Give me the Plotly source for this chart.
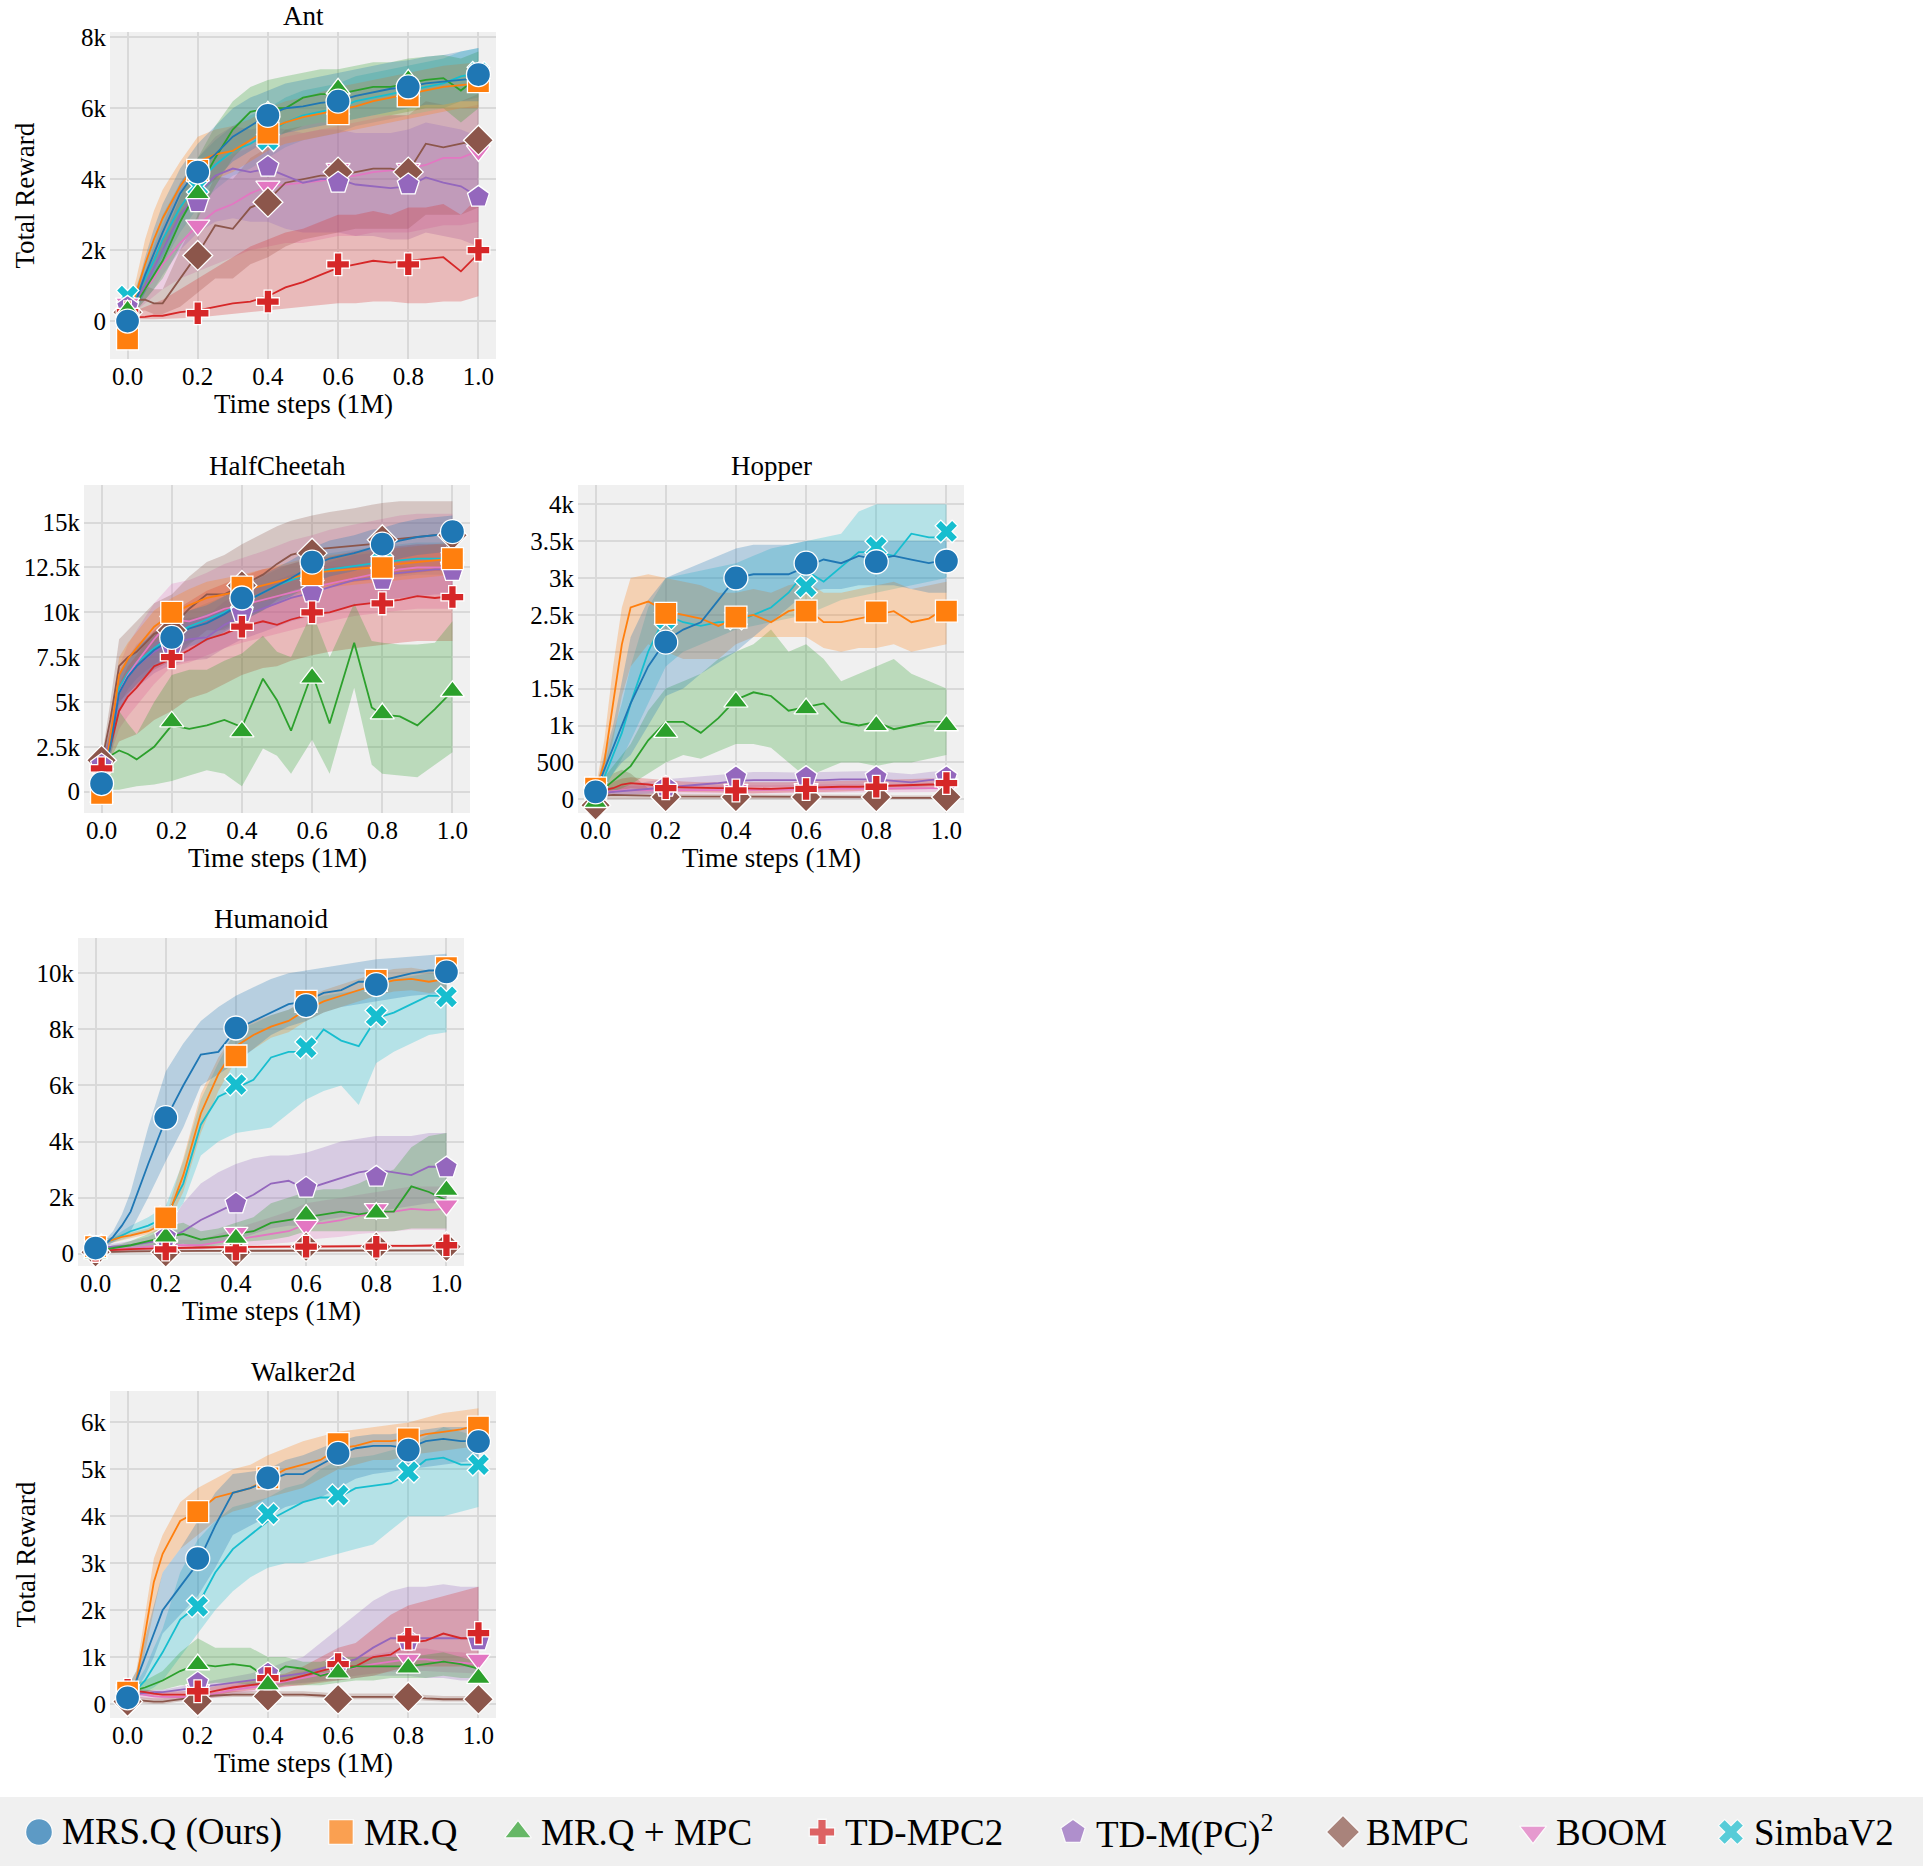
import plotly.graph_objects as go

W, H = 1923, 1866
FONT = "Liberation Serif"

METHODS = ["MRS.Q (Ours)", "MR.Q", "MR.Q + MPC", "TD-MPC2", "TD-M(PC)<sup>2</sup>", "BMPC", "BOOM", "SimbaV2"]
COLORS = ["#1f77b4", "#ff7f0e", "#2ca02c", "#d62728", "#9467bd", "#8c564b", "#e377c2", "#17becf"]
SYMBOLS = ["circle", "square", "triangle-up", "cross", "pentagon", "diamond", "triangle-down", "x"]
SYM_SIZE = [24, 22, 21, 19, 23, 23, 21, 20]

MARK_X = [0.0, 0.2, 0.4, 0.6, 0.8, 1.0]
X = [0, 0.025, 0.05, 0.075, 0.1, 0.15, 0.2, 0.25, 0.3, 0.35, 0.4, 0.45, 0.5, 0.55, 0.6, 0.65, 0.7, 0.75, 0.8, 0.85, 0.9, 0.95, 1.0]
X_HC = [0, 0.025, 0.05, 0.075, 0.1, 0.15, 0.2, 0.25, 0.3, 0.35, 0.4, 0.46, 0.5, 0.54, 0.6, 0.65, 0.72, 0.77, 0.8, 0.85, 0.9, 0.95, 1.0]
X_TICKS = [0.0, 0.2, 0.4, 0.6, 0.8, 1.0]
X_TICKTEXT = ["0.0", "0.2", "0.4", "0.6", "0.8", "1.0"]

# ---------------- Ant (values in thousands) ----------------
ANT_MEAN = [
    [0.2, 0.6, 1.3, 1.9, 2.5, 3.6, 4.3, 4.7, 5.2, 5.5, 5.8, 6.0, 6.05, 6.15, 6.2, 6.35, 6.45, 6.55, 6.6, 6.7, 6.75, 6.8, 6.85],
    [0.2, 0.8, 1.6, 2.3, 2.9, 3.8, 4.5, 4.7, 4.8, 5.1, 5.4, 5.6, 5.75, 5.85, 5.95, 6.05, 6.2, 6.3, 6.4, 6.5, 6.6, 6.65, 6.7],
    [0.2, 0.5, 0.9, 1.3, 1.7, 2.8, 3.7, 4.6, 5.4, 5.9, 6.0, 6.0, 6.3, 6.4, 6.4, 6.5, 6.6, 6.6, 6.7, 6.8, 6.85, 6.5, 6.9],
    [0.1, 0.1, 0.12, 0.15, 0.15, 0.25, 0.3, 0.4, 0.5, 0.55, 0.7, 0.95, 1.1, 1.3, 1.5, 1.6, 1.7, 1.65, 1.7, 1.75, 1.8, 1.4, 1.9],
    [0.3, 0.6, 1.0, 1.5, 2.0, 3.0, 3.6, 4.1, 4.3, 4.2, 4.3, 4.1, 3.9, 4.0, 4.0, 3.85, 3.8, 3.75, 3.8, 4.05, 3.9, 3.8, 3.5],
    [0.3, 0.6, 0.6, 0.5, 0.5, 1.2, 1.9, 2.7, 2.6, 3.2, 3.4, 3.9, 4.0, 4.1, 4.1, 4.2, 4.3, 4.3, 4.2, 5.0, 4.9, 5.0, 5.1],
    [0.4, 0.6, 0.9, 1.2, 1.6, 2.2, 2.7, 3.1, 3.3, 3.6, 3.8, 3.85, 3.9, 3.95, 4.05, 4.1, 4.2, 4.25, 4.3, 4.4, 4.6, 4.6, 4.8],
    [0.4, 0.7, 1.2, 1.7, 2.3, 3.2, 3.9, 4.4, 4.8, 5.0, 5.3, 5.6, 5.8, 5.9, 6.0, 6.2, 6.3, 6.4, 6.5, 6.6, 6.7, 6.9, 7.0],
]
ANT_LO = [
    [0.1, 0.3, 0.8, 1.3, 1.8, 2.8, 3.5, 4.0, 4.5, 4.8, 5.1, 5.3, 5.4, 5.5, 5.6, 5.7, 5.8, 5.9, 6.0, 6.1, 6.1, 6.2, 6.2],
    [0.1, 0.4, 1.0, 1.6, 2.1, 2.9, 3.6, 4.0, 4.2, 4.5, 4.8, 5.0, 5.1, 5.2, 5.3, 5.4, 5.5, 5.6, 5.7, 5.8, 5.9, 6.0, 6.0],
    [0.1, 0.3, 0.6, 0.9, 1.2, 2.1, 2.9, 3.8, 4.6, 5.1, 5.2, 5.3, 5.5, 5.6, 5.6, 5.7, 5.8, 5.8, 5.9, 6.0, 6.0, 5.6, 6.0],
    [0.05, 0.05, 0.05, 0.05, 0.05, 0.08, 0.1, 0.15, 0.2, 0.25, 0.3, 0.35, 0.4, 0.45, 0.5, 0.5, 0.55, 0.55, 0.5, 0.5, 0.55, 0.55, 0.7],
    [0.2, 0.3, 0.6, 0.9, 1.3, 2.0, 2.5, 2.8, 2.9, 2.8, 2.8, 2.6, 2.5, 2.5, 2.5, 2.4, 2.4, 2.3, 2.3, 2.5, 2.4, 2.3, 2.1],
    [0.2, 0.3, 0.3, 0.2, 0.2, 0.4, 0.8, 1.2, 1.2, 1.6, 1.8, 2.1, 2.3, 2.4, 2.5, 2.6, 2.6, 2.6, 2.6, 3.0, 3.0, 3.0, 3.2],
    [0.2, 0.3, 0.5, 0.7, 0.9, 1.2, 1.4, 1.6, 1.8, 2.0, 2.1, 2.2, 2.2, 2.3, 2.4, 2.4, 2.5, 2.5, 2.5, 2.6, 2.7, 2.7, 2.8],
    [0.2, 0.4, 0.8, 1.2, 1.6, 2.5, 3.2, 3.7, 4.1, 4.3, 4.6, 4.9, 5.1, 5.2, 5.3, 5.5, 5.6, 5.7, 5.8, 5.9, 6.0, 6.2, 6.3],
]
ANT_HI = [
    [0.3, 0.9, 1.8, 2.6, 3.3, 4.3, 5.0, 5.5, 6.0, 6.3, 6.5, 6.7, 6.8, 6.9, 7.0, 7.1, 7.2, 7.3, 7.35, 7.45, 7.5, 7.6, 7.7],
    [0.3, 1.2, 2.3, 3.1, 3.7, 4.5, 5.2, 5.4, 5.5, 5.7, 6.0, 6.2, 6.3, 6.45, 6.6, 6.7, 6.8, 6.9, 7.0, 7.1, 7.2, 7.25, 7.3],
    [0.3, 0.8, 1.3, 1.8, 2.3, 3.5, 4.6, 5.5, 6.2, 6.6, 6.8, 6.9, 7.0, 7.1, 7.1, 7.2, 7.3, 7.3, 7.4, 7.45, 7.5, 7.4, 7.6],
    [0.2, 0.3, 0.4, 0.5, 0.6, 0.9, 1.2, 1.5, 1.8, 2.1, 2.3, 2.5, 2.6, 2.8, 3.0, 3.0, 3.1, 3.0, 3.2, 3.2, 3.3, 3.0, 3.5],
    [0.4, 0.9, 1.4, 2.1, 2.7, 3.9, 4.6, 5.2, 5.5, 5.4, 5.5, 5.4, 5.3, 5.4, 5.4, 5.3, 5.3, 5.3, 5.4, 5.6, 5.5, 5.4, 5.2],
    [0.4, 0.9, 1.0, 0.9, 0.9, 2.0, 3.0, 4.1, 4.0, 4.6, 4.9, 5.4, 5.5, 5.6, 5.6, 5.7, 5.8, 5.8, 5.8, 6.2, 6.1, 6.2, 6.4],
    [0.6, 0.9, 1.3, 1.8, 2.3, 3.1, 3.9, 4.4, 4.7, 4.9, 5.1, 5.2, 5.3, 5.4, 5.5, 5.6, 5.7, 5.8, 5.8, 5.9, 6.0, 6.0, 6.1],
    [0.6, 1.0, 1.6, 2.2, 3.0, 3.9, 4.6, 5.1, 5.5, 5.8, 6.0, 6.3, 6.5, 6.6, 6.7, 6.9, 7.0, 7.1, 7.2, 7.3, 7.4, 7.6, 7.7],
]
ANT_MARK = [
    [0.0, 4.2, 5.8, 6.2, 6.6, 6.95],
    [-0.5, 4.25, 5.3, 5.85, 6.35, 6.75],
    [0.3, 3.6, 5.9, 6.55, 6.8, 7.0],
    [0.25, 0.22, 0.55, 1.6, 1.6, 2.0],
    [0.4, 3.35, 4.35, 3.9, 3.85, 3.5],
    [0.25, 1.85, 3.35, 4.2, 4.2, 5.1],
    [0.5, 2.7, 3.8, 4.3, 4.3, 4.8],
    [0.7, 3.8, 5.1, 6.0, 6.5, 7.0],
]
ANT_YTICKS = [0, 2, 4, 6, 8]
ANT_YTEXT = ["0", "2k", "4k", "6k", "8k"]

# ---------------- HalfCheetah ----------------
HC_MEAN = [
    [0.5, 2.5, 5.5, 6.4, 7.0, 7.9, 8.5, 9.1, 9.4, 9.9, 10.5, 11.1, 11.5, 11.9, 12.6, 13.0, 13.3, 13.6, 13.7, 14.0, 14.2, 14.3, 14.4],
    [0.3, 3.0, 6.5, 7.4, 8.0, 9.2, 9.9, 10.4, 10.8, 11.0, 11.2, 11.5, 11.7, 11.9, 12.2, 12.3, 12.4, 12.5, 12.6, 12.7, 12.8, 12.9, 13.0],
    [1.2, 2.0, 2.3, 2.1, 1.8, 2.5, 3.7, 3.5, 3.7, 4.0, 3.6, 6.3, 5.1, 3.4, 6.6, 3.8, 8.3, 4.7, 4.3, 4.2, 3.7, 4.6, 5.6],
    [1.2, 2.5, 4.5, 5.3, 5.8, 7.0, 7.4, 7.9, 8.5, 8.8, 9.2, 9.5, 9.3, 9.6, 9.9, 10.0, 10.4, 10.5, 10.6, 10.7, 10.9, 10.8, 10.9],
    [1.4, 3.0, 5.5, 6.4, 7.0, 7.8, 8.3, 8.5, 8.6, 9.3, 9.8, 10.2, 10.5, 10.8, 11.1, 11.4, 11.8, 11.9, 12.1, 12.2, 12.3, 12.4, 12.4],
    [1.6, 4.0, 7.0, 7.5, 7.8, 8.8, 9.2, 10.2, 11.0, 11.0, 11.5, 12.1, 12.7, 13.2, 13.5, 13.6, 13.7, 13.8, 14.0, 14.1, 14.2, 14.3, 14.3],
    [1.0, 3.0, 5.5, 6.5, 7.2, 8.5, 9.6, 9.5, 9.8, 10.2, 10.4, 10.7, 10.9, 11.1, 11.4, 11.6, 11.9, 12.1, 12.2, 12.4, 12.5, 12.5, 12.5],
    [0.3, 2.8, 5.8, 6.6, 7.2, 8.0, 8.7, 9.2, 9.6, 10.0, 10.5, 11.1, 11.5, 11.8, 12.2, 12.4, 12.6, 12.75, 12.8, 12.9, 13.0, 13.0, 13.0],
]
HC_LO = [
    [0.3, 1.8, 4.5, 5.4, 6.0, 6.9, 7.5, 8.1, 8.4, 8.9, 9.5, 10.1, 10.5, 10.9, 11.6, 12.0, 12.3, 12.6, 12.7, 13.0, 13.2, 13.3, 13.4],
    [0.1, 2.2, 5.5, 6.5, 7.1, 8.3, 9.0, 9.5, 9.9, 10.1, 10.3, 10.6, 10.8, 11.0, 11.3, 11.4, 11.5, 11.6, 11.7, 11.8, 11.9, 12.0, 12.1],
    [0.8, 0.1, 0.1, 0.2, 0.3, 0.4, 0.6, 0.9, 1.2, 1.0, 0.3, 2.4, 2.0, 1.0, 2.9, 1.0, 5.8, 1.5, 1.0, 0.9, 0.8, 1.5, 2.2],
    [1.0, 1.8, 2.8, 3.0, 3.2, 4.0, 4.5, 5.2, 5.5, 6.0, 6.5, 6.9, 7.0, 7.3, 7.6, 7.8, 8.0, 8.1, 8.2, 8.3, 8.4, 8.4, 8.4],
    [1.2, 2.3, 4.5, 5.3, 5.8, 6.6, 7.1, 7.3, 7.4, 8.0, 8.5, 8.9, 9.2, 9.5, 9.8, 10.0, 10.4, 10.5, 10.7, 10.8, 10.9, 11.0, 11.0],
    [1.4, 3.0, 5.0, 5.5, 5.9, 6.8, 7.3, 8.2, 9.0, 9.0, 9.5, 10.1, 10.7, 11.2, 11.5, 11.6, 11.7, 11.8, 12.0, 12.1, 12.2, 12.3, 12.3],
    [0.8, 2.0, 3.5, 4.2, 4.8, 6.0, 7.0, 7.2, 7.6, 8.0, 8.3, 8.6, 8.8, 9.0, 9.3, 9.5, 9.8, 9.9, 10.0, 10.1, 10.2, 10.2, 10.2],
    [0.1, 2.1, 4.8, 5.7, 6.3, 7.1, 7.8, 8.3, 8.7, 9.1, 9.6, 10.2, 10.6, 10.9, 11.3, 11.5, 11.7, 11.85, 11.9, 12.0, 12.1, 12.1, 12.1],
]
HC_HI = [
    [0.7, 3.2, 6.5, 7.4, 8.0, 8.9, 9.5, 10.1, 10.4, 10.9, 11.5, 12.1, 12.5, 12.9, 13.6, 14.0, 14.3, 14.6, 14.7, 15.0, 15.2, 15.3, 15.4],
    [0.5, 3.8, 7.5, 8.3, 8.9, 10.1, 10.8, 11.3, 11.7, 11.9, 12.1, 12.4, 12.6, 12.8, 13.1, 13.2, 13.3, 13.4, 13.5, 13.6, 13.7, 13.8, 13.9],
    [1.6, 3.5, 4.5, 3.8, 3.2, 5.0, 6.5, 6.8, 6.8, 7.3, 7.7, 8.7, 7.8, 7.5, 10.0, 7.5, 10.5, 8.4, 8.3, 8.2, 8.2, 8.3, 9.5],
    [1.4, 3.2, 6.0, 7.0, 7.6, 9.0, 10.0, 10.6, 11.2, 11.6, 12.0, 12.4, 12.5, 12.7, 13.0, 13.1, 13.4, 13.5, 13.6, 13.7, 13.8, 13.8, 13.8],
    [1.6, 3.7, 6.5, 7.5, 8.2, 9.0, 9.5, 9.7, 9.8, 10.6, 11.1, 11.5, 11.8, 12.1, 12.4, 12.8, 13.2, 13.3, 13.5, 13.6, 13.7, 13.8, 13.8],
    [1.8, 5.0, 8.5, 9.0, 9.5, 10.5, 11.0, 12.0, 12.8, 13.2, 13.8, 14.4, 14.8, 15.1, 15.4, 15.6, 15.8, 16.0, 16.1, 16.2, 16.2, 16.2, 16.2],
    [1.2, 4.0, 7.0, 8.2, 9.0, 10.5, 11.6, 11.8, 12.2, 12.7, 13.0, 13.4, 13.7, 14.0, 14.3, 14.6, 14.9, 15.1, 15.2, 15.4, 15.5, 15.5, 15.5],
    [0.5, 3.5, 6.8, 7.5, 8.1, 8.9, 9.6, 10.1, 10.5, 10.9, 11.4, 12.0, 12.4, 12.7, 13.1, 13.3, 13.5, 13.65, 13.7, 13.8, 13.9, 13.9, 13.9],
]
HC_MARK = [
    [0.45, 8.6, 10.8, 12.8, 13.8, 14.5],
    [-0.1, 10.0, 11.4, 12.1, 12.5, 13.0],
    [-0.3, 3.9, 3.35, 6.35, 4.35, 5.6],
    [1.3, 7.5, 9.2, 10.0, 10.5, 10.85],
    [1.5, 8.1, 10.0, 11.1, 11.8, 12.3],
    [1.75, 9.0, 11.5, 13.3, 14.05, 14.3],
    [1.0, 9.5, 10.5, 11.5, 12.2, 12.5],
    [0.3, 8.7, 10.6, 12.2, 12.8, 13.0],
]
HC_YTICKS = [0, 2.5, 5, 7.5, 10, 12.5, 15]
HC_YTEXT = ["0", "2.5k", "5k", "7.5k", "10k", "12.5k", "15k"]

# ---------------- Hopper ----------------
HOP_MEAN = [
    [0.1, 0.4, 0.7, 1.0, 1.3, 1.8, 2.15, 2.3, 2.4, 2.7, 3.0, 3.05, 3.05, 3.05, 3.15, 3.25, 3.2, 3.3, 3.25, 3.3, 3.25, 3.2, 3.25],
    [0.1, 0.5, 1.3, 2.1, 2.6, 2.68, 2.55, 2.5, 2.45, 2.35, 2.45, 2.5, 2.4, 2.55, 2.6, 2.4, 2.4, 2.45, 2.5, 2.55, 2.4, 2.45, 2.6],
    [0.05, 0.15, 0.25, 0.35, 0.45, 0.8, 1.05, 1.05, 0.9, 1.1, 1.35, 1.45, 1.4, 1.2, 1.25, 1.3, 1.05, 1.0, 1.05, 0.95, 1.0, 1.05, 1.05],
    [0.1, 0.12, 0.15, 0.2, 0.22, 0.2, 0.17, 0.16, 0.15, 0.15, 0.15, 0.14, 0.14, 0.15, 0.16, 0.16, 0.17, 0.17, 0.18, 0.19, 0.2, 0.2, 0.2],
    [0.08, 0.09, 0.1, 0.11, 0.12, 0.15, 0.17, 0.19, 0.2, 0.22, 0.25, 0.26, 0.26, 0.25, 0.25, 0.26, 0.27, 0.27, 0.27, 0.25, 0.23, 0.26, 0.28],
    [0.0, 0.05, 0.06, 0.06, 0.05, 0.05, 0.04, 0.04, 0.04, 0.04, 0.04, 0.04, 0.03, 0.03, 0.03, 0.03, 0.03, 0.03, 0.03, 0.02, 0.02, 0.02, 0.02],
    [0.08, 0.1, 0.11, 0.12, 0.12, 0.12, 0.12, 0.12, 0.12, 0.13, 0.13, 0.13, 0.13, 0.13, 0.14, 0.14, 0.14, 0.14, 0.14, 0.15, 0.15, 0.15, 0.15],
    [0.1, 0.3, 0.6, 0.9, 1.3, 2.0, 2.5, 2.4, 2.35, 2.4, 2.4, 2.5, 2.6, 2.8, 3.1, 2.95, 3.15, 3.35, 3.35, 3.3, 3.6, 3.55, 3.55],
]
HOP_LO = [
    [0.05, 0.2, 0.35, 0.5, 0.6, 1.0, 1.4, 1.5, 1.7, 1.85, 2.0, 2.2, 2.4, 2.6, 2.8, 2.85, 2.85, 2.9, 2.9, 2.9, 2.85, 2.8, 2.8],
    [0.05, 0.3, 0.8, 1.4, 1.8, 2.1, 2.0, 1.9, 1.9, 1.9, 2.1, 2.2, 2.2, 2.2, 2.2, 2.05, 2.0, 2.05, 2.05, 2.1, 2.0, 2.05, 2.1],
    [0.0, 0.05, 0.1, 0.15, 0.2, 0.35, 0.5, 0.6, 0.55, 0.65, 0.75, 0.75, 0.7, 0.5, 0.3, 0.4, 0.5, 0.5, 0.45, 0.5, 0.5, 0.55, 0.6],
    [0.05, 0.07, 0.09, 0.13, 0.15, 0.13, 0.11, 0.1, 0.09, 0.09, 0.09, 0.08, 0.08, 0.09, 0.1, 0.1, 0.11, 0.11, 0.12, 0.13, 0.14, 0.14, 0.14],
    [0.04, 0.05, 0.05, 0.06, 0.06, 0.08, 0.1, 0.12, 0.13, 0.15, 0.17, 0.18, 0.18, 0.17, 0.17, 0.18, 0.19, 0.19, 0.19, 0.17, 0.16, 0.18, 0.2],
    [-0.03, 0.0, 0.01, 0.01, 0.01, 0.01, 0.01, 0.01, 0.01, 0.01, 0.01, 0.01, 0.0, 0.0, 0.0, 0.0, 0.0, 0.0, 0.0, 0.0, 0.0, 0.0, 0.0],
    [0.04, 0.05, 0.06, 0.07, 0.07, 0.07, 0.07, 0.07, 0.07, 0.08, 0.08, 0.08, 0.08, 0.08, 0.09, 0.09, 0.09, 0.09, 0.09, 0.1, 0.1, 0.1, 0.1],
    [0.05, 0.15, 0.35, 0.55, 0.8, 1.3, 1.8, 2.0, 2.1, 2.2, 2.3, 2.35, 2.4, 2.45, 2.5, 2.6, 2.7, 2.75, 2.8, 2.85, 2.9, 2.95, 3.0],
]
HOP_HI = [
    [0.15, 0.6, 1.0, 1.6, 2.2, 2.7, 3.0, 3.1, 3.2, 3.3, 3.4, 3.45, 3.45, 3.45, 3.5, 3.5, 3.5, 3.5, 3.5, 3.5, 3.5, 3.5, 3.5],
    [0.15, 0.8, 1.8, 2.6, 3.0, 3.05, 3.0, 2.95, 2.9, 2.8, 2.8, 2.85, 2.8, 2.9, 2.95, 2.8, 2.8, 2.85, 2.9, 2.95, 2.85, 2.9, 2.95],
    [0.1, 0.3, 0.45, 0.6, 0.75, 1.2, 1.5, 1.6, 1.7, 1.9, 2.0, 2.1, 2.3, 2.0, 2.1, 1.9, 1.6, 1.7, 1.8, 1.9, 1.7, 1.6, 1.5],
    [0.15, 0.19, 0.24, 0.28, 0.3, 0.28, 0.25, 0.24, 0.23, 0.23, 0.23, 0.22, 0.22, 0.23, 0.24, 0.24, 0.25, 0.25, 0.26, 0.27, 0.28, 0.28, 0.28],
    [0.12, 0.14, 0.16, 0.18, 0.2, 0.24, 0.27, 0.29, 0.31, 0.33, 0.36, 0.37, 0.37, 0.36, 0.36, 0.37, 0.38, 0.38, 0.38, 0.36, 0.34, 0.37, 0.39],
    [0.05, 0.2, 0.35, 0.4, 0.35, 0.15, 0.08, 0.07, 0.07, 0.07, 0.07, 0.07, 0.06, 0.06, 0.06, 0.06, 0.06, 0.06, 0.06, 0.05, 0.05, 0.05, 0.05],
    [0.12, 0.15, 0.17, 0.18, 0.18, 0.18, 0.18, 0.18, 0.18, 0.19, 0.19, 0.19, 0.19, 0.19, 0.2, 0.2, 0.2, 0.2, 0.2, 0.21, 0.21, 0.21, 0.21],
    [0.15, 0.45, 0.9, 1.3, 1.8, 2.6, 3.0, 3.05, 3.1, 3.15, 3.2, 3.3, 3.4, 3.45, 3.5, 3.55, 3.6, 3.9, 4.0, 4.0, 4.0, 4.0, 4.0],
]
HOP_MARK = [
    [0.1, 2.13, 3.0, 3.2, 3.22, 3.23],
    [0.15, 2.52, 2.47, 2.55, 2.54, 2.55],
    [-0.04, 0.91, 1.32, 1.23, 1.0, 1.0],
    [0.12, 0.15, 0.12, 0.14, 0.17, 0.22],
    [0.08, 0.17, 0.3, 0.3, 0.3, 0.3],
    [-0.08, 0.03, 0.03, 0.03, 0.03, 0.03],
    [0.1, 0.12, 0.13, 0.14, 0.14, 0.15],
    [0.15, 2.45, 2.45, 2.88, 3.42, 3.63],
]
HOP_YTICKS = [0, 0.5, 1, 1.5, 2, 2.5, 3, 3.5, 4]
HOP_YTEXT = ["0", "500", "1k", "1.5k", "2k", "2.5k", "3k", "3.5k", "4k"]

# ---------------- Humanoid ----------------
HUM_MEAN = [
    [0.2, 0.3, 0.6, 1.0, 1.5, 3.2, 4.8, 6.0, 7.1, 7.2, 8.0, 8.3, 8.6, 8.9, 9.0, 9.3, 9.4, 9.7, 9.7, 9.85, 10.0, 10.1, 10.1],
    [0.3, 0.4, 0.5, 0.6, 0.65, 0.8, 1.1, 2.8, 5.0, 6.4, 7.4, 7.8, 8.1, 8.3, 8.7, 9.0, 9.2, 9.4, 9.6, 9.75, 9.8, 9.7, 9.8],
    [0.1, 0.15, 0.2, 0.25, 0.3, 0.45, 0.6, 0.7, 0.5, 0.6, 0.7, 0.8, 1.1, 1.2, 1.3, 1.4, 1.5, 1.4, 1.5, 1.5, 2.4, 2.2, 1.9],
    [0.1, 0.12, 0.14, 0.15, 0.16, 0.18, 0.2, 0.22, 0.22, 0.23, 0.24, 0.24, 0.25, 0.25, 0.25, 0.26, 0.26, 0.27, 0.27, 0.28, 0.28, 0.29, 0.3],
    [0.2, 0.22, 0.25, 0.28, 0.3, 0.4, 0.5, 0.8, 1.2, 1.5, 1.8, 2.1, 2.5, 2.6, 2.3, 2.5, 2.7, 2.9, 3.0, 2.9, 2.8, 3.1, 3.1],
    [0.05, 0.05, 0.06, 0.07, 0.08, 0.09, 0.1, 0.1, 0.1, 0.1, 0.1, 0.1, 0.1, 0.11, 0.11, 0.11, 0.11, 0.12, 0.12, 0.12, 0.12, 0.12, 0.12],
    [0.1, 0.12, 0.15, 0.18, 0.2, 0.25, 0.3, 0.3, 0.3, 0.4, 0.5, 0.6, 0.7, 0.8, 1.05, 1.1, 1.2, 1.35, 1.45, 1.5, 1.6, 1.55, 1.6],
    [0.3, 0.4, 0.5, 0.65, 0.8, 1.0, 1.3, 2.5, 4.6, 5.6, 5.9, 6.2, 7.0, 7.2, 7.2, 8.0, 7.6, 7.4, 8.4, 8.6, 8.9, 9.2, 9.2],
]
HUM_LO = [
    [0.1, 0.2, 0.4, 0.6, 0.8, 2.0, 3.3, 4.5, 6.0, 6.4, 6.8, 7.3, 7.8, 8.1, 8.3, 8.6, 8.8, 8.9, 9.0, 9.1, 9.2, 9.25, 9.3],
    [0.2, 0.3, 0.4, 0.5, 0.55, 0.7, 0.9, 2.2, 4.3, 5.8, 6.9, 7.3, 7.7, 7.9, 8.3, 8.6, 8.8, 9.0, 9.2, 9.35, 9.4, 9.3, 9.4],
    [0.05, 0.1, 0.1, 0.15, 0.15, 0.25, 0.3, 0.35, 0.2, 0.3, 0.4, 0.45, 0.5, 0.6, 0.8, 0.8, 0.8, 0.8, 0.8, 0.8, 0.9, 0.9, 0.9],
    [0.05, 0.07, 0.09, 0.1, 0.11, 0.13, 0.15, 0.17, 0.17, 0.18, 0.19, 0.19, 0.2, 0.2, 0.2, 0.21, 0.21, 0.22, 0.22, 0.23, 0.23, 0.24, 0.25],
    [0.1, 0.12, 0.15, 0.17, 0.2, 0.25, 0.3, 0.3, 0.3, 0.4, 0.5, 0.7, 0.9, 1.0, 1.0, 1.2, 1.3, 1.4, 1.5, 1.6, 1.7, 1.8, 1.8],
    [0.01, 0.01, 0.02, 0.03, 0.04, 0.05, 0.06, 0.06, 0.06, 0.06, 0.06, 0.06, 0.06, 0.07, 0.07, 0.07, 0.07, 0.08, 0.08, 0.08, 0.08, 0.08, 0.08],
    [0.05, 0.06, 0.08, 0.1, 0.1, 0.12, 0.15, 0.15, 0.15, 0.2, 0.25, 0.3, 0.35, 0.4, 0.5, 0.55, 0.6, 0.7, 0.75, 0.8, 0.85, 0.85, 0.85],
    [0.2, 0.3, 0.4, 0.5, 0.6, 0.8, 1.0, 1.8, 3.5, 4.0, 4.3, 4.4, 4.5, 5.0, 5.5, 5.8, 6.0, 5.3, 6.8, 7.2, 7.5, 7.8, 7.9],
]
HUM_HI = [
    [0.3, 0.45, 0.8, 1.4, 2.2, 4.5, 6.5, 7.5, 8.3, 8.8, 9.2, 9.5, 9.8, 10.0, 10.1, 10.2, 10.3, 10.4, 10.5, 10.55, 10.6, 10.65, 10.7],
    [0.4, 0.5, 0.6, 0.7, 0.75, 0.9, 1.3, 3.4, 5.7, 7.0, 7.9, 8.3, 8.5, 8.7, 9.1, 9.4, 9.6, 9.8, 10.0, 10.15, 10.2, 10.1, 10.2],
    [0.15, 0.2, 0.3, 0.35, 0.45, 0.7, 1.0, 1.1, 0.8, 0.9, 1.1, 1.3, 1.8, 2.0, 2.2, 2.3, 2.3, 2.5, 2.8, 3.0, 3.8, 4.2, 4.3],
    [0.15, 0.17, 0.19, 0.2, 0.21, 0.23, 0.25, 0.27, 0.27, 0.28, 0.29, 0.29, 0.3, 0.3, 0.3, 0.31, 0.31, 0.32, 0.32, 0.33, 0.33, 0.34, 0.35],
    [0.3, 0.32, 0.35, 0.4, 0.45, 0.6, 0.9, 1.8, 2.5, 2.9, 3.2, 3.4, 3.5, 3.5, 3.6, 3.8, 4.0, 4.1, 4.2, 4.2, 4.2, 4.3, 4.3],
    [0.09, 0.09, 0.1, 0.11, 0.12, 0.13, 0.14, 0.14, 0.14, 0.14, 0.14, 0.14, 0.14, 0.15, 0.15, 0.15, 0.15, 0.16, 0.16, 0.16, 0.16, 0.16, 0.16],
    [0.15, 0.2, 0.25, 0.3, 0.3, 0.4, 0.5, 0.5, 0.5, 0.7, 0.9, 1.1, 1.3, 1.5, 1.8, 1.9, 2.0, 2.1, 2.2, 2.3, 2.4, 2.4, 2.4],
    [0.4, 0.5, 0.6, 0.8, 1.0, 1.3, 1.7, 3.3, 5.5, 6.8, 8.0, 8.2, 8.5, 8.7, 9.0, 9.2, 9.3, 9.4, 9.7, 9.8, 9.9, 10.0, 10.0],
]
HUM_MARK = [
    [0.2, 4.85, 8.05, 8.85, 9.6, 10.05],
    [0.25, 1.28, 7.05, 9.0, 9.75, 10.2],
    [0.0, 0.6, 0.55, 1.38, 1.45, 2.27],
    [0.1, 0.15, 0.15, 0.25, 0.25, 0.3],
    [0.2, 0.6, 1.79, 2.35, 2.74, 3.07],
    [0.05, 0.05, 0.05, 0.25, 0.25, 0.25],
    [0.1, 0.3, 0.75, 1.0, 1.6, 1.73],
    [0.3, 1.3, 6.03, 7.35, 8.47, 9.16],
]
HUM_YTICKS = [0, 2, 4, 6, 8, 10]
HUM_YTEXT = ["0", "2k", "4k", "6k", "8k", "10k"]

# ---------------- Walker2d ----------------
WAL_MEAN = [
    [0.25, 0.5, 1.0, 1.5, 2.0, 2.5, 3.0, 3.8, 4.5, 4.6, 4.75, 4.9, 4.9, 5.1, 5.3, 5.45, 5.5, 5.5, 5.45, 5.6, 5.65, 5.6, 5.6],
    [0.25, 0.5, 1.5, 2.6, 3.2, 3.9, 4.1, 4.4, 4.5, 4.6, 4.8, 5.0, 5.1, 5.2, 5.45, 5.5, 5.6, 5.6, 5.65, 5.75, 5.8, 5.85, 5.95],
    [0.3, 0.3, 0.35, 0.42, 0.5, 0.7, 0.85, 0.8, 0.85, 0.8, 0.55, 0.8, 0.75, 0.6, 0.7, 0.8, 0.8, 0.8, 0.8, 0.85, 0.9, 0.85, 0.75],
    [0.3, 0.28, 0.25, 0.22, 0.2, 0.2, 0.2, 0.28, 0.35, 0.4, 0.45, 0.5, 0.6, 0.7, 0.8, 0.8, 1.0, 1.05, 1.3, 1.35, 1.5, 1.4, 1.4],
    [0.2, 0.22, 0.24, 0.25, 0.25, 0.3, 0.35, 0.4, 0.45, 0.5, 0.55, 0.6, 0.65, 0.75, 0.85, 0.95, 1.2, 1.4, 1.4, 1.4, 1.4, 1.4, 1.4],
    [0.1, 0.08, 0.06, 0.05, 0.05, 0.1, 0.15, 0.18, 0.2, 0.2, 0.2, 0.2, 0.2, 0.18, 0.15, 0.15, 0.15, 0.15, 0.15, 0.12, 0.1, 0.1, 0.1],
    [0.25, 0.22, 0.18, 0.16, 0.15, 0.15, 0.15, 0.22, 0.3, 0.35, 0.4, 0.48, 0.55, 0.62, 0.7, 0.78, 0.85, 0.9, 0.95, 0.95, 0.9, 0.88, 0.85],
    [0.2, 0.3, 0.5, 0.8, 1.1, 1.8, 2.1, 2.8, 3.3, 3.6, 3.9, 4.1, 4.3, 4.4, 4.4, 4.6, 4.65, 4.7, 4.9, 5.2, 5.25, 5.1, 5.1],
]
WAL_LO = [
    [0.15, 0.3, 0.6, 1.0, 1.5, 1.9, 2.3, 2.9, 3.6, 3.8, 4.0, 4.2, 4.3, 4.4, 4.6, 4.8, 4.9, 4.95, 5.0, 5.05, 5.1, 5.15, 5.2],
    [0.15, 0.3, 1.1, 2.0, 2.8, 3.3, 3.6, 3.9, 4.1, 4.2, 4.4, 4.5, 4.6, 4.8, 5.0, 5.1, 5.2, 5.2, 5.3, 5.35, 5.4, 5.45, 5.5],
    [0.2, 0.2, 0.25, 0.3, 0.3, 0.4, 0.4, 0.45, 0.45, 0.4, 0.3, 0.4, 0.4, 0.4, 0.45, 0.5, 0.5, 0.55, 0.55, 0.55, 0.6, 0.55, 0.55],
    [0.25, 0.22, 0.18, 0.15, 0.13, 0.12, 0.12, 0.18, 0.25, 0.3, 0.33, 0.37, 0.4, 0.45, 0.5, 0.55, 0.6, 0.7, 0.8, 0.8, 0.8, 0.8, 0.8],
    [0.15, 0.17, 0.19, 0.2, 0.2, 0.23, 0.27, 0.3, 0.33, 0.37, 0.4, 0.43, 0.45, 0.48, 0.5, 0.55, 0.6, 0.6, 0.6, 0.55, 0.55, 0.5, 0.5],
    [0.05, 0.03, 0.01, 0.0, 0.0, 0.05, 0.1, 0.13, 0.15, 0.15, 0.15, 0.15, 0.15, 0.13, 0.1, 0.1, 0.1, 0.1, 0.1, 0.07, 0.05, 0.05, 0.05],
    [0.18, 0.15, 0.11, 0.09, 0.08, 0.08, 0.08, 0.14, 0.2, 0.25, 0.3, 0.36, 0.42, 0.48, 0.55, 0.6, 0.65, 0.68, 0.7, 0.7, 0.68, 0.66, 0.65],
    [0.1, 0.15, 0.25, 0.35, 0.5, 1.0, 1.5, 2.0, 2.4, 2.7, 2.9, 3.0, 3.0, 3.1, 3.2, 3.3, 3.4, 3.7, 4.0, 4.0, 4.0, 4.1, 4.2],
]
WAL_HI = [
    [0.35, 0.7, 1.4, 2.1, 2.8, 3.3, 3.9, 4.5, 4.9, 4.95, 5.0, 5.2, 5.3, 5.45, 5.6, 5.7, 5.75, 5.75, 5.8, 5.85, 5.9, 5.9, 5.9],
    [0.35, 0.7, 1.9, 3.1, 3.6, 4.3, 4.6, 4.8, 5.0, 5.1, 5.3, 5.45, 5.6, 5.7, 5.8, 5.85, 5.9, 5.95, 6.0, 6.1, 6.2, 6.25, 6.3],
    [0.4, 0.45, 0.5, 0.6, 0.7, 1.1, 1.4, 1.2, 1.2, 1.2, 1.0, 1.0, 0.9, 0.9, 1.0, 1.0, 1.0, 1.0, 1.0, 1.05, 1.1, 1.0, 0.9],
    [0.35, 0.33, 0.3, 0.28, 0.26, 0.27, 0.28, 0.38, 0.45, 0.5, 0.58, 0.65, 0.8, 1.0, 1.2, 1.3, 1.6, 1.9, 2.1, 2.2, 2.3, 2.4, 2.5],
    [0.25, 0.27, 0.29, 0.3, 0.3, 0.37, 0.43, 0.5, 0.57, 0.65, 0.75, 0.9, 1.0, 1.3, 1.6, 1.9, 2.2, 2.4, 2.5, 2.5, 2.55, 2.5, 2.5],
    [0.17, 0.15, 0.13, 0.12, 0.12, 0.17, 0.22, 0.25, 0.27, 0.27, 0.27, 0.27, 0.27, 0.25, 0.22, 0.22, 0.22, 0.22, 0.22, 0.19, 0.17, 0.17, 0.17],
    [0.32, 0.29, 0.25, 0.23, 0.22, 0.22, 0.23, 0.3, 0.4, 0.45, 0.5, 0.6, 0.7, 0.78, 0.88, 0.98, 1.05, 1.12, 1.18, 1.18, 1.12, 1.1, 1.05],
    [0.3, 0.45, 0.75, 1.2, 1.6, 2.8, 3.5, 3.9, 4.2, 4.3, 4.4, 4.6, 4.7, 5.0, 5.2, 5.25, 5.3, 5.4, 5.5, 5.7, 5.9, 5.8, 5.7],
]
WAL_MARK = [
    [0.13, 3.1, 4.82, 5.34, 5.41, 5.59],
    [0.25, 4.1, 4.82, 5.55, 5.65, 5.9],
    [0.25, 0.84, 0.41, 0.66, 0.77, 0.55],
    [0.3, 0.27, 0.55, 0.85, 1.39, 1.51],
    [0.2, 0.45, 0.65, 0.85, 1.35, 1.35],
    [0.05, 0.06, 0.16, 0.1, 0.15, 0.1],
    [0.3, 0.3, 0.55, 0.8, 0.95, 0.95],
    [0.2, 2.08, 4.05, 4.45, 4.95, 5.1],
]
WAL_YTICKS = [0, 1, 2, 3, 4, 5, 6]
WAL_YTEXT = ["0", "1k", "2k", "3k", "4k", "5k", "6k"]

# legend entry centres (pixels across the bottom band)
LEGEND_X = [39, 341, 518, 822, 1073, 1343, 1533, 1731]

# ---------------- layout helpers ----------------
PANELS = [
    dict(name="Ant", x=X, mean=ANT_MEAN, lo=ANT_LO, hi=ANT_HI, mark=ANT_MARK,
         yr=[-1.07, 8.15], yt=ANT_YTICKS, ytt=ANT_YTEXT, box=(110, 32, 496, 359), ylab=True),
    dict(name="HalfCheetah", x=X_HC, mean=HC_MEAN, lo=HC_LO, hi=HC_HI, mark=HC_MARK,
         yr=[-1.19, 17.1], yt=HC_YTICKS, ytt=HC_YTEXT, box=(84, 485, 470, 813), ylab=False),
    dict(name="Hopper", x=X, mean=HOP_MEAN, lo=HOP_LO, hi=HOP_HI, mark=HOP_MARK,
         yr=[-0.186, 4.26], yt=HOP_YTICKS, ytt=HOP_YTEXT, box=(578, 485, 964, 813), ylab=False),
    dict(name="Humanoid", x=X, mean=HUM_MEAN, lo=HUM_LO, hi=HUM_HI, mark=HUM_MARK,
         yr=[-0.44, 11.26], yt=HUM_YTICKS, ytt=HUM_YTEXT, box=(78, 938, 464, 1266), ylab=False),
    dict(name="Walker2d", x=X, mean=WAL_MEAN, lo=WAL_LO, hi=WAL_HI, mark=WAL_MARK,
         yr=[-0.3, 6.67], yt=WAL_YTICKS, ytt=WAL_YTEXT, box=(110, 1391, 496, 1718), ylab=True),
]


def px_x(p):
    return p / W


def px_y(p):
    return 1 - p / H


def rgba(hexc, a):
    h = hexc.lstrip("#")
    return "rgba(%d,%d,%d,%.2f)" % (int(h[0:2], 16), int(h[2:4], 16), int(h[4:6], 16), a)


fig = go.Figure()
annotations = []
BG = "#f0f0f0"
GRID = "#d9d9d9"
order = list(range(len(METHODS)))[::-1]

for i, p in enumerate(PANELS):
    k = "" if i == 0 else str(i + 1)
    xa, ya = "x" + k, "y" + k
    xs = p["x"]
    # bands
    for m in order:
        fig.add_trace(go.Scatter(
            x=list(xs) + list(xs)[::-1], y=p["hi"][m] + p["lo"][m][::-1],
            fill="toself", fillcolor=rgba(COLORS[m], 0.27), line=dict(width=0),
            mode="lines", hoverinfo="skip", showlegend=False, xaxis=xa, yaxis=ya))
    # mean lines
    for m in order:
        fig.add_trace(go.Scatter(
            x=xs, y=p["mean"][m], mode="lines", line=dict(color=COLORS[m], width=1.8),
            hoverinfo="skip", showlegend=False, xaxis=xa, yaxis=ya))
    # markers
    for m in order:
        fig.add_trace(go.Scatter(
            x=MARK_X, y=p["mark"][m], mode="markers", cliponaxis=False,
            marker=dict(symbol=SYMBOLS[m], size=SYM_SIZE[m], color=COLORS[m],
                        line=dict(color="white", width=1.3)),
            hoverinfo="skip", showlegend=False, xaxis=xa, yaxis=ya))

    x0, y0, x1, y1 = p["box"]
    axis_common = dict(showgrid=True, gridcolor=GRID, gridwidth=2, zeroline=False,
                       showline=False, ticks="", automargin=False,
                       tickfont=dict(family=FONT, size=25, color="#000"))
    fig.layout["xaxis" + k] = dict(domain=[px_x(x0), px_x(x1)], anchor=ya, range=[-0.05, 1.05],
                                   tickvals=X_TICKS, ticktext=X_TICKTEXT, **axis_common)
    fig.layout["yaxis" + k] = dict(domain=[px_y(y1), px_y(y0)], anchor=xa, range=p["yr"],
                                   tickvals=p["yt"], ticktext=p["ytt"], ticklabelstandoff=3, **axis_common)
    cx = px_x((x0 + x1) / 2)
    if i == 0:
        # top panel title: anchored to the page top so it is not cut off
        annotations.append(dict(text=p["name"], x=cx, y=1, xref="paper", yref="paper",
                                xanchor="center", yanchor="top", yshift=0, borderpad=0, showarrow=False,
                                font=dict(family=FONT, size=27, color="#000")))
    else:
        annotations.append(dict(text=p["name"], x=cx, y=px_y(y0), xref="paper", yref="paper",
                                xanchor="center", yanchor="bottom", yshift=2, showarrow=False,
                                font=dict(family=FONT, size=27, color="#000")))
    annotations.append(dict(text="Time steps (1M)", x=cx, y=px_y(y1 + 45), xref="paper", yref="paper",
                            xanchor="center", yanchor="middle", showarrow=False,
                            font=dict(family=FONT, size=27, color="#000")))
    if p["ylab"]:
        annotations.append(dict(text="Total Reward", x=px_x(25), y=px_y((y0 + y1) / 2),
                                xref="paper", yref="paper", xanchor="center", yanchor="middle",
                                textangle=-90, showarrow=False,
                                font=dict(family=FONT, size=27, color="#000")))

# ---------------- bottom legend band ----------------
BAND_TOP = 1797
BAND_H = H - BAND_TOP
LEG_Y = H - 1832
fig.add_trace(go.Scatter(
    x=LEGEND_X, y=[LEG_Y] * len(LEGEND_X), mode="markers", cliponaxis=False,
    marker=dict(symbol=SYMBOLS, size=[s * 1.12 for s in SYM_SIZE], color=COLORS,
                line=dict(color="white", width=1.3)),
    hoverinfo="skip", showlegend=False, xaxis="x6", yaxis="y6"))
fig.layout["xaxis6"] = dict(domain=[0, 1], range=[0, W], visible=False, anchor="y6",
                            fixedrange=True, automargin=False)
fig.layout["yaxis6"] = dict(domain=[0, BAND_H / H], range=[0, BAND_H], visible=False, anchor="x6",
                            fixedrange=True, automargin=False)
for lx, name in zip(LEGEND_X, METHODS):
    annotations.append(dict(text=name, x=lx + 21, y=LEG_Y, xref="x6", yref="y6",
                            xanchor="left", yanchor="middle", showarrow=False,
                            font=dict(family=FONT, size=37, color="#000")))

fig.update_layout(
    width=W, height=H, margin=dict(l=0, r=0, t=0, b=0, pad=0, autoexpand=False),
    paper_bgcolor="white", plot_bgcolor=BG, showlegend=False,
    font=dict(family=FONT, color="#000"), hovermode=False,
    annotations=annotations,
    shapes=[dict(type="rect", xref="paper", yref="paper", x0=0, x1=1, y0=0, y1=BAND_H / H,
                 fillcolor=BG, line=dict(width=0), layer="below")],
)

fig.write_html("out.html")
